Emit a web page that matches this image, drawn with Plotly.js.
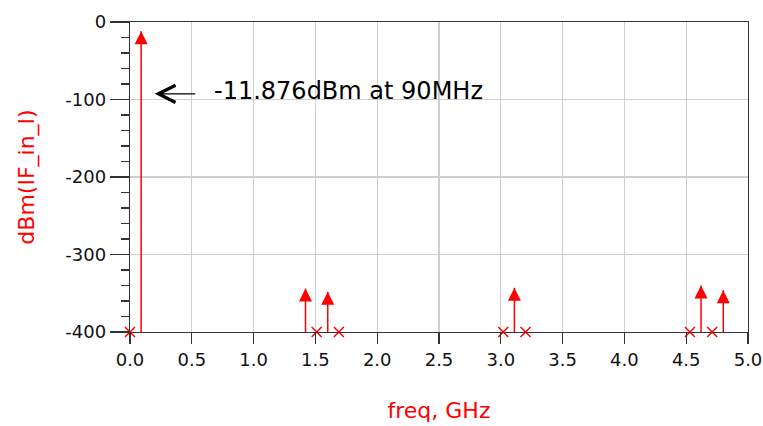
<!DOCTYPE html>
<html>
<head>
<meta charset="utf-8">
<script src="https://cdn.plot.ly/plotly-3.0.1.min.js"></script>
<style>
html,body{margin:0;padding:0;background:#fff;}
#chart{width:763px;height:426px;}
</style>
</head>
<body>
<div id="chart"></div>
<script>
// Spectrum lines shown with arrow markers (value in range)
const toneFreqGHz = [0.09, 1.42, 1.60, 3.11, 4.62, 4.80];
const toneDbm = [-11.876, -344, -348, -343, -340, -346];
// Spectrum lines below the display range (shown as x at the floor)
const lowFreqGHz = [0.0, 1.51, 1.69, 3.02, 3.20, 4.53, 4.71];
const lowDbm = [-400, -400, -400, -400, -400, -400, -400];
const xTickVals = [0, 0.5, 1.0, 1.5, 2.0, 2.5, 3.0, 3.5, 4.0, 4.5, 5.0];
const xTickText = ['0.0','0.5','1.0','1.5','2.0','2.5','3.0','3.5','4.0','4.5','5.0'];
const yTickVals = [-400, -300, -200, -100, 0];
const yTickText = ['-400','-300','-200','-100','0'];
const yFloor = -400;

const stemX = [], stemY = [];
toneFreqGHz.forEach((f, i) => { stemX.push(f, f, null); stemY.push(yFloor, toneDbm[i], null); });

const RED = '#ff0000';
const FONT = 'DejaVu Sans, Arial, sans-serif';

const traces = [
  {x: stemX, y: stemY, type: 'scatter', mode: 'lines', line: {color: RED, width: 1.5},
   hoverinfo: 'skip', showlegend: false},
  {x: toneFreqGHz, y: toneDbm, type: 'scatter', mode: 'markers',
   marker: {symbol: 'arrow-up', size: 13, color: RED, line: {width: 0}},
   cliponaxis: false, showlegend: false},
  {x: lowFreqGHz, y: lowDbm, type: 'scatter', mode: 'markers',
   marker: {symbol: 'x-thin-open', size: 10, color: RED, line: {color: RED, width: 1.5}},
   cliponaxis: false, showlegend: false}
];

const layout = {
  width: 763, height: 426,
  margin: {l: 130, r: 15, t: 22, b: 93.5},
  paper_bgcolor: '#fff', plot_bgcolor: '#fff',
  font: {family: FONT, size: 18, color: '#111'},
  showlegend: false,
  xaxis: {
    range: [0, 5], tickvals: xTickVals, ticktext: xTickText,
    ticks: 'outside', ticklen: 11, tickwidth: 1.3, tickcolor: '#333',
    showline: true, linecolor: '#333', linewidth: 1.3, mirror: true,
    showgrid: true, gridcolor: '#cfcfcf', gridwidth: 1.3, zeroline: false,
    tickfont: {family: FONT, size: 18, color: '#111'},
    title: {text: 'freq, GHz', font: {family: FONT, size: 22, color: RED}, standoff: 33},
    automargin: false
  },
  yaxis: {
    range: [-400, 0], tickvals: yTickVals, ticktext: yTickText,
    ticks: 'outside', ticklen: 19, tickwidth: 1.3, tickcolor: '#333',
    minor: {dtick: 20, ticks: 'outside', ticklen: 8, tickwidth: 1.3, tickcolor: '#333', showgrid: false},
    showline: true, linecolor: '#333', linewidth: 1.3, mirror: true,
    showgrid: true, gridcolor: '#cfcfcf', gridwidth: 1.3, zeroline: false,
    tickfont: {family: FONT, size: 18, color: '#111'},
    title: {text: 'dBm(IF_in_I)', font: {family: FONT, size: 22, color: RED}, standoff: 24},
    automargin: false
  },
  annotations: [
    {x: 0.2, y: -92.7, xref: 'x', yref: 'y', ax: 0.54, ay: -92.7, axref: 'x', ayref: 'y',
     text: '', showarrow: true, arrowhead: 5, arrowsize: 2.4, arrowwidth: 1.4, arrowcolor: '#000'},
    {x: 0.66, y: -89, xref: 'x', yref: 'y', xanchor: 'left', yanchor: 'middle',
     text: '-11.876dBm at 90MHz', showarrow: false,
     font: {family: FONT, size: 24, color: '#000'}}
  ]
};

Plotly.newPlot('chart', traces, layout, {staticPlot: true, displayModeBar: false});
</script>
</body>
</html>
